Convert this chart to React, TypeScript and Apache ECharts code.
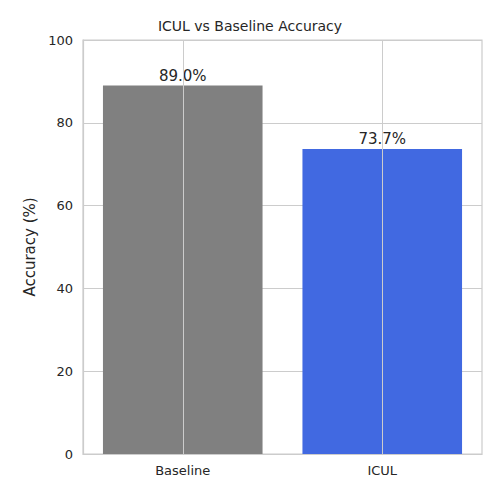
import React, { useEffect, useRef } from 'react';
import * as echarts from 'echarts';

const categories = ['Baseline', 'ICUL'];
const accuracy = [89.0, 73.7];
const barColors = ['#808080', '#4169e1'];
const yTicks = { min: 0, max: 100, interval: 20 };

const App: React.FC = () => {
  const chartRef = useRef<HTMLDivElement>(null);

  useEffect(() => {
    document.body.style.margin = '0';
    if (!chartRef.current) return;
    const chart = echarts.init(chartRef.current, undefined, { renderer: 'svg' });
    const font = 'DejaVu Sans';
    const option: echarts.EChartsOption = {
      animation: false,
      textStyle: { fontFamily: font },
      title: {
        text: 'ICUL vs Baseline Accuracy',
        left: 'center',
        top: 14,
        textStyle: { fontSize: 14, fontWeight: 'normal', color: '#262626', fontFamily: font },
      },
      grid: { left: 83, right: 18, top: 40, bottom: 46 },
      xAxis: {
        type: 'category',
        data: categories,
        axisLine: { show: true, lineStyle: { color: '#cccccc', width: 1.2 } },
        axisTick: { show: false },
        axisLabel: { color: '#262626', fontSize: 13, margin: 10 },
        splitLine: { show: false },
      },
      yAxis: {
        type: 'value',
        ...yTicks,
        name: 'Accuracy (%)',
        nameLocation: 'middle',
        nameGap: 44,
        nameTextStyle: { color: '#262626', fontSize: 15 },
        axisLine: { show: true, lineStyle: { color: '#cccccc', width: 1.2 } },
        axisTick: { show: false },
        axisLabel: { color: '#262626', fontSize: 13, margin: 10 },
        splitLine: { lineStyle: { color: '#cccccc', width: 1 } },
      },
      graphic: [
        {
          type: 'rect',
          shape: { x: 83, y: 40, width: 399, height: 414 },
          style: { fill: 'none', stroke: '#cccccc', lineWidth: 1.2 },
          silent: true,
        },
      ],
      series: [
        {
          type: 'line',
          data: [],
          z: 1,
          markLine: {
            silent: true,
            symbol: 'none',
            label: { show: false },
            lineStyle: { color: '#cccccc', width: 1, type: 'solid' },
            data: categories.map((c) => ({ xAxis: c })),
          },
        },
        {
          type: 'bar',
          z: 2,
          barWidth: '80%',
          data: accuracy.map((v, i) => ({ value: v, itemStyle: { color: barColors[i] } })),
          label: {
            show: true,
            position: 'top',
            distance: 2,
            color: '#262626',
            fontSize: 15,
            formatter: (p: any) => `${Number(p.value).toFixed(1)}%`,
          },
        },
      ],
    };
    chart.setOption(option);
    return () => chart.dispose();
  }, []);

  return <div ref={chartRef} style={{ width: 500, height: 500 }} />;
};

export default App;
